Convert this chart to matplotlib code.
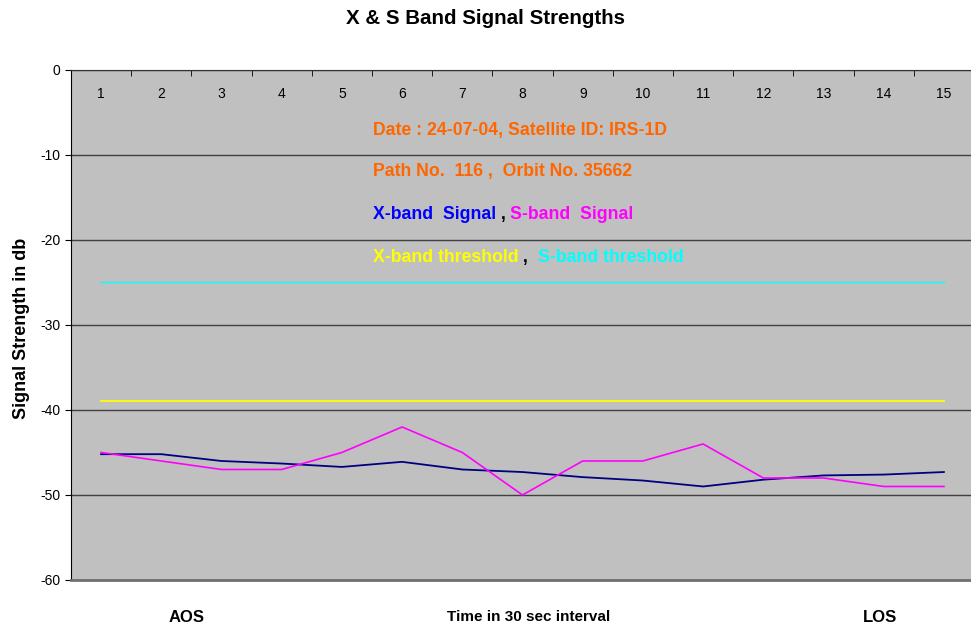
import matplotlib.pyplot as plt

plt.rcParams['font.family'] = ['Liberation Sans', 'DejaVu Sans']
plt.rcParams['axes.unicode_minus'] = False

# samples taken every 30 sec between AOS and LOS
intervals = [1, 2, 3, 4, 5, 6, 7, 8, 9, 10, 11, 12, 13, 14, 15]
x_band = [-45.2, -45.2, -46.0, -46.3, -46.7, -46.1, -47.0, -47.3, -47.9, -48.3, -49.0, -48.2, -47.7, -47.6, -47.3]
s_band = [-45, -46, -47, -47, -45, -42, -45, -50, -46, -46, -44, -48, -48, -49, -49]
x_threshold = -39
s_threshold = -25

fig = plt.figure(figsize=(9.71, 6.30), dpi=100)
ax = fig.add_axes([0.0731, 0.0794, 0.93, 0.8095])
ax.set_facecolor('#C0C0C0')

ax.plot(intervals, [s_threshold] * len(intervals), color='#00FFFF', lw=1.0, zorder=3)
ax.plot(intervals, [x_threshold] * len(intervals), color='#FFFF00', lw=1.3, zorder=3)
ax.plot(intervals, x_band, color='#000080', lw=1.3, zorder=4)
ax.plot(intervals, s_band, color='#FF00FF', lw=1.2, zorder=4)

ax.set_xlim(0.5, 15.5)
ax.set_ylim(-60, 0)
ax.set_yticks(range(-60, 1, 10))
ax.set_xticks(intervals)
ax.set_xticks([i + 0.5 for i in intervals[:-1]], minor=True)
ax.tick_params(axis='x', which='major', top=False, bottom=False, labeltop=True,
               labelbottom=False, length=0, pad=-22, labelsize=10)
ax.tick_params(axis='x', which='minor', top=True, bottom=False, direction='in', length=4)
ax.tick_params(axis='y', length=4, labelsize=10, direction='out')
ax.grid(axis='y', color='#404040', lw=1.0)
ax.set_axisbelow(True)
ax.spines['right'].set_visible(False)
ax.spines['top'].set_color('#303030')
ax.spines['left'].set_color('black')
ax.spines['bottom'].set_color('#707070')
ax.spines['bottom'].set_linewidth(2)

fs = 12.7
ax.text(5.51, -7.06, 'Date : 24-07-04, Satellite ID: IRS-1D', color='#FF6600',
        fontsize=fs, fontweight='bold', va='center')
ax.text(5.51, -12.0, 'Path No.  116 ,  Orbit No. 35662', color='#FF6600',
        fontsize=fs, fontweight='bold', va='center')

t1 = ax.text(5.51, -17.06, 'X-band  Signal', color='#0000FF', fontsize=fs,
             fontweight='bold', va='center')
t2 = ax.annotate(' , ', xy=(1, 0), xycoords=t1, va='bottom', color='black',
                 fontsize=fs, fontweight='bold')
ax.annotate('S-band  Signal', xy=(1, 0), xycoords=t2, va='bottom', color='#FF00FF',
            fontsize=fs, fontweight='bold')

t3 = ax.text(5.51, -22.1, 'X-band threshold', color='#FFFF00', fontsize=fs,
             fontweight='bold', va='center')
t4 = ax.annotate(' ,  ', xy=(1, 0), xycoords=t3, va='bottom', color='black',
                 fontsize=fs, fontweight='bold')
ax.annotate('S-band threshold', xy=(1, 0), xycoords=t4, va='bottom', color='#00FFFF',
            fontsize=fs, fontweight='bold')

fig.text(0.5, 1 - 18 / 630, 'X & S Band Signal Strengths', fontsize=14.8,
         fontweight='bold', ha='center', va='center')
fig.text(22 / 971, 1 - 328 / 630, 'Signal Strength in db', fontsize=13, fontweight='bold',
         rotation=90, ha='center', va='center')
fig.text(187 / 971, 1 - 617 / 630, 'AOS', fontsize=12, fontweight='bold', ha='center', va='center')
fig.text(529 / 971, 1 - 617 / 630, 'Time in 30 sec interval', fontsize=11, fontweight='bold',
         ha='center', va='center')
fig.text(880 / 971, 1 - 617 / 630, 'LOS', fontsize=12, fontweight='bold', ha='center', va='center')

fig.savefig('out.png', dpi=100)
